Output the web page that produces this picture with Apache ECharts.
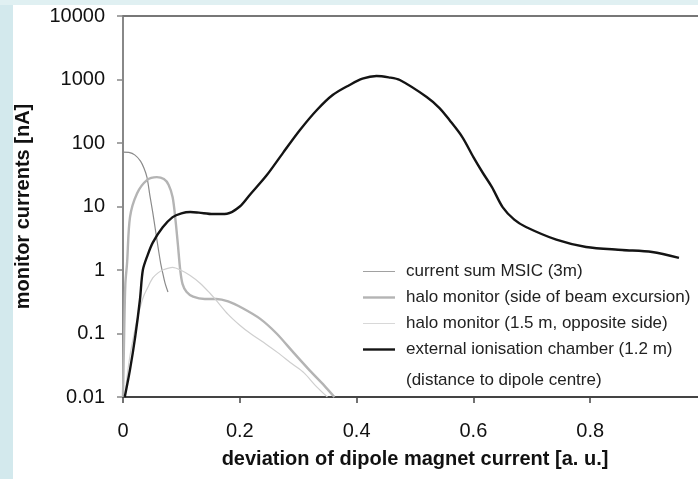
<!DOCTYPE html>
<html><head><meta charset="utf-8">
<script src="https://cdn.jsdelivr.net/npm/echarts@6/dist/echarts.min.js"></script>
<style>html,body{margin:0;padding:0;background:#fff}#c{width:698px;height:479px}</style>
</head><body><div id="c"></div>
<script>
const seriesNames = [
  'current sum MSIC (3m)',
  'halo monitor (side of beam excursion)',
  'halo monitor (1.5 m, opposite side)',
  'external ionisation chamber (1.2 m)'
];
const noteText = '(distance to dipole centre)';
const xAxisTitle = 'deviation of dipole magnet current [a. u.]';
const yAxisTitle = 'monitor currents [nA]';

const msicSum = [[0,72],[0.01,71],[0.02,65],[0.03,52],[0.036,40],[0.041,29],[0.046,15],[0.051,8],[0.056,4],[0.061,2],[0.065,1.2],[0.068,0.9],[0.072,0.62],[0.077,0.45]];
const haloSide = [[0,0.01],[0.002,0.1],[0.004,0.6],[0.007,1.3],[0.012,6.8],[0.024,16],[0.041,26],[0.058,29],[0.07,27],[0.078,22],[0.085,14],[0.09,6],[0.094,2.5],[0.098,1.0],[0.102,0.6],[0.109,0.45],[0.12,0.38],[0.14,0.35],[0.16,0.35],[0.18,0.32],[0.205,0.25],[0.235,0.17],[0.263,0.1],[0.292,0.05],[0.32,0.026],[0.345,0.015],[0.362,0.01]];
const haloOpp = [[0.003,0.01],[0.008,0.025],[0.012,0.045],[0.017,0.08],[0.023,0.15],[0.029,0.25],[0.035,0.38],[0.041,0.5],[0.051,0.75],[0.06,0.9],[0.068,1.0],[0.085,1.1],[0.1,0.98],[0.115,0.82],[0.132,0.62],[0.149,0.43],[0.16,0.33],[0.18,0.2],[0.2,0.135],[0.22,0.097],[0.245,0.068],[0.265,0.05],[0.29,0.033],[0.31,0.024],[0.33,0.015],[0.35,0.01]];
const ionChamber = [[0.003,0.01],[0.012,0.027],[0.021,0.09],[0.029,0.34],[0.034,1.0],[0.042,1.7],[0.051,2.7],[0.068,4.7],[0.085,6.8],[0.1,7.8],[0.115,8.2],[0.13,8.0],[0.154,7.6],[0.178,7.7],[0.2,10],[0.217,15.2],[0.246,31],[0.274,70],[0.303,160],[0.332,331],[0.359,570],[0.388,819],[0.41,1030],[0.434,1135],[0.455,1080],[0.474,981],[0.52,530],[0.542,355],[0.559,230],[0.581,124],[0.6,60],[0.616,34],[0.632,20],[0.65,9.8],[0.67,6.2],[0.69,4.75],[0.742,3.0],[0.793,2.3],[0.855,2.07],[0.906,1.92],[0.952,1.55]];

const seriesData = [msicSum, haloSide, haloOpp, ionChamber];
const seriesColors = ['#8a8a8a', '#b4b4b4', '#cfcfcf', '#141414'];
const seriesWidths = [1.2, 2.4, 1.2, 2.4];
const legendIcons = ['path://M0,0h40v1h-40z', 'path://M0,0h40v3h-40z', 'path://M0,0h40v1h-40z', 'path://M0,0h40v3h-40z'];

const chart = echarts.init(document.getElementById('c'), null, {renderer: 'canvas'});
const font = 'Liberation Sans, Arial, sans-serif';
chart.setOption({
  backgroundColor: '#ffffff',
  animation: false,
  grid: {left: 123, top: 16, height: 381, width: 584, containLabel: false, outerBoundsMode: 'none'},
  graphic: [
    {type: 'rect', shape: {x: 0, y: 0, width: 13, height: 479}, style: {fill: '#d3e9ed'}, z: 100},
    {type: 'rect', shape: {x: 0, y: 0, width: 698, height: 5}, style: {fill: '#e0f0f2'}, z: 100},
    {type: 'text', left: 406, top: 372, style: {text: noteText, font: '17px ' + font, fill: '#222'}}
  ],
  legend: {
    data: seriesNames.map((n, i) => ({name: n, icon: legendIcons[i], itemStyle: {color: seriesColors[i]}})),
    orient: 'vertical', left: 363, top: 263,
    itemWidth: 32, itemHeight: 14, itemGap: 9,
    textStyle: {fontFamily: font, fontSize: 17, color: '#222', padding: [0, 0, 0, 6]},
    padding: 0
  },
  xAxis: [{
    type: 'value', min: 0, max: 1, interval: 0.2,
    axisLine: {show: true, lineStyle: {color: '#444', width: 2}},
    axisTick: {show: true, length: 6, lineStyle: {color: '#444', width: 1.5}},
    axisLabel: {fontFamily: font, fontSize: 20, color: '#111', margin: 24, showMaxLabel: false, formatter: v => String(+v.toFixed(2))},
    splitLine: {show: false},
    name: xAxisTitle, nameLocation: 'middle', nameGap: 52,
    nameTextStyle: {fontFamily: font, fontSize: 20, fontWeight: 'bold', color: '#111'}
  }, {
    type: 'value', position: 'top', min: 0, max: 1,
    axisLine: {show: true, onZero: false, lineStyle: {color: '#777', width: 2}},
    axisTick: {show: false}, axisLabel: {show: false}, splitLine: {show: false}
  }],
  yAxis: {
    type: 'log', logBase: 10, min: 0.01, max: 10000,
    axisLine: {show: true, onZero: false, lineStyle: {color: '#888', width: 2}},
    axisTick: {show: true, length: 6, lineStyle: {color: '#888', width: 1.5}},
    axisLabel: {fontFamily: font, fontSize: 20, color: '#111', margin: 18, formatter: v => String(+(+v).toPrecision(6))},
    splitLine: {show: false},
    name: yAxisTitle, nameLocation: 'middle', nameGap: 90,
    nameTextStyle: {fontFamily: font, fontSize: 20, fontWeight: 'bold', color: '#111'}
  },
  series: seriesData.map((d, i) => ({
    name: seriesNames[i], type: 'line', data: d, showSymbol: false, symbol: 'none',
    smooth: 0.3, clip: true, z: i === 3 ? 5 : 3,
    lineStyle: {color: seriesColors[i], width: seriesWidths[i]},
    itemStyle: {color: seriesColors[i]}
  }))
});
</script></body></html>
